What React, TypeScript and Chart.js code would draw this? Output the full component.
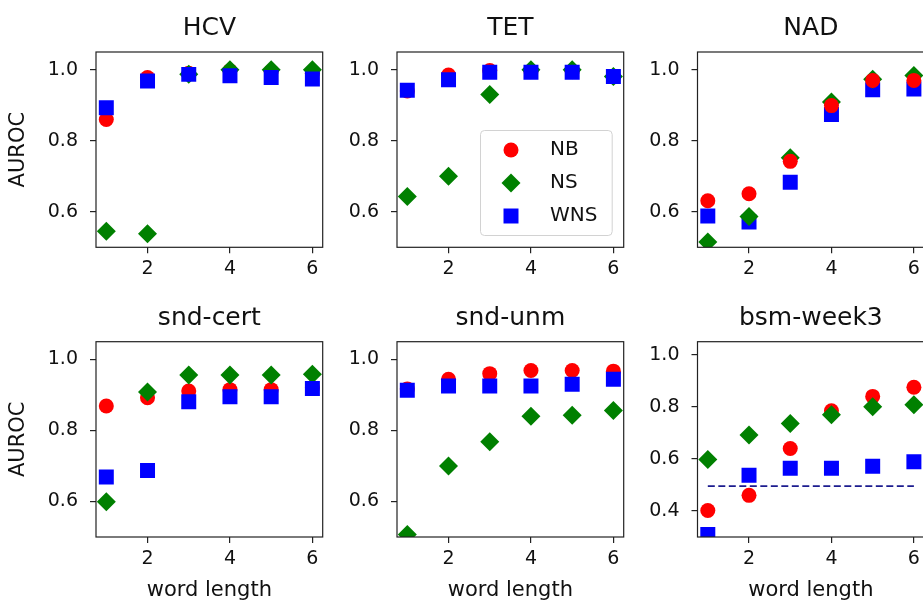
import React, { useEffect, useRef } from 'react';
import { Chart, registerables } from 'chart.js';

Chart.register(...registerables);

// ---------- data ----------
const wordLengths = [1, 2, 3, 4, 5, 6];
const xTickValues = [2, 4, 6];
const yTicksStd = [0.6, 0.8, 1.0];
const yTicksBsm = [0.4, 0.6, 0.8, 1.0];
const seriesNames = ['NB', 'NS', 'WNS'];
const panelTitles = ['HCV', 'TET', 'NAD', 'snd-cert', 'snd-unm', 'bsm-week3'];

const hcvNB = [0.86, 0.978, 0.99, 0.997, 0.995, 0.99];
const hcvNS = [0.545, 0.538, 0.987, 1.0, 1.0, 1.0];
const hcvWNS = [0.893, 0.968, 0.987, 0.983, 0.978, 0.974];

const tetNB = [0.94, 0.985, 0.998, 0.995, 0.995, 0.98];
const tetNS = [0.643, 0.7, 0.93, 1.0, 1.0, 0.981];
const tetWNS = [0.942, 0.972, 0.993, 0.993, 0.993, 0.981];

const nadNB = [0.631, 0.651, 0.742, 0.899, 0.97, 0.97];
const nadNS = [0.515, 0.587, 0.752, 0.909, 0.973, 0.984];
const nadWNS = [0.588, 0.571, 0.683, 0.874, 0.944, 0.946];

const certNB = [0.869, 0.892, 0.911, 0.915, 0.915, 0.92];
const certNS = [0.599, 0.908, 0.956, 0.956, 0.956, 0.958];
const certWNS = [0.669, 0.687, 0.881, 0.895, 0.895, 0.918];

const unmNB = [0.917, 0.944, 0.96, 0.969, 0.969, 0.967];
const unmNS = [0.507, 0.7, 0.768, 0.84, 0.843, 0.856];
const unmWNS = [0.913, 0.925, 0.925, 0.925, 0.93, 0.944];

const bsmNB = [0.402, 0.46, 0.64, 0.785, 0.84, 0.875];
const bsmNS = [0.598, 0.692, 0.736, 0.769, 0.8, 0.808];
const bsmWNS = [0.31, 0.537, 0.564, 0.564, 0.572, 0.589];
const chanceX = [1, 6];
const chanceY = [0.495, 0.495];

// ---------- styling / layout ----------
const FONT = "'DejaVu Sans', sans-serif";
const TEXT = '#111111';
const COLORS = ['#ff0000', '#008000', '#0000ff'];
const STYLES = ['circle', 'rectRot', 'rect'];
const RADII = [7.5, 9.5, 10.6];

const COL_X = [0, 300, 600];
const ROW_Y = [0, 290];
const CANVAS_W = 330;
const CANVAS_H = [290, 315];
const PLOT_LEFT = [96, 397, 697.5];
const PLOT_TOP = [52, 341.7];
const PLOT_W = 226.7;
const PLOT_H = 195.3;

type PanelCfg = {
  title: string;
  series: number[][];
  yMin: number;
  yMax: number;
  yTicks: number[];
  order: number[];
  legend?: boolean;
  chance?: boolean;
};

const normalOrder = [2, 1, 0];
const reversedOrder = [0, 1, 2];

const panels: PanelCfg[] = [
  { title: panelTitles[0], series: [hcvNB, hcvNS, hcvWNS], yMin: 0.5, yMax: 1.05, yTicks: yTicksStd, order: normalOrder },
  { title: panelTitles[1], series: [tetNB, tetNS, tetWNS], yMin: 0.5, yMax: 1.05, yTicks: yTicksStd, order: normalOrder, legend: true },
  { title: panelTitles[2], series: [nadNB, nadNS, nadWNS], yMin: 0.5, yMax: 1.05, yTicks: yTicksStd, order: reversedOrder },
  { title: panelTitles[3], series: [certNB, certNS, certWNS], yMin: 0.5, yMax: 1.05, yTicks: yTicksStd, order: normalOrder },
  { title: panelTitles[4], series: [unmNB, unmNS, unmWNS], yMin: 0.5, yMax: 1.05, yTicks: yTicksStd, order: normalOrder },
  { title: panelTitles[5], series: [bsmNB, bsmNS, bsmWNS], yMin: 0.3, yMax: 1.05, yTicks: yTicksBsm, order: normalOrder, chance: true },
];

// ---------- plugins ----------
const framePlugin = {
  id: 'frame',
  afterDatasetsDraw(chart: any) {
    const { ctx, chartArea: a } = chart;
    ctx.save();
    ctx.strokeStyle = '#222';
    ctx.lineWidth = 1.2;
    ctx.strokeRect(a.left, a.top, a.right - a.left, a.bottom - a.top);
    ctx.restore();
  },
};

function drawMarker(ctx: CanvasRenderingContext2D, style: string, r: number, x: number, y: number) {
  ctx.beginPath();
  if (style === 'circle') {
    ctx.arc(x, y, r, 0, Math.PI * 2);
  } else if (style === 'rectRot') {
    ctx.moveTo(x - r, y);
    ctx.lineTo(x, y - r);
    ctx.lineTo(x + r, y);
    ctx.lineTo(x, y + r);
    ctx.closePath();
  } else {
    const h = r * Math.SQRT1_2;
    ctx.rect(x - h, y - h, 2 * h, 2 * h);
  }
  ctx.fill();
}

const insetLegendPlugin = {
  id: 'insetLegend',
  afterDatasetsDraw(chart: any, _args: any, opts: any) {
    if (!opts || !opts.display) return;
    const { ctx, chartArea: a } = chart;
    const bw = 131.7, bh = 105;
    const bx = a.right - 12 - bw;
    const by = a.bottom - 12.3 - bh;
    ctx.save();
    ctx.beginPath();
    (ctx as any).roundRect(bx + 0.5, by + 0.5, bw, bh, 4);
    ctx.fillStyle = 'rgba(255,255,255,0.8)';
    ctx.fill();
    ctx.strokeStyle = '#d2d2d2';
    ctx.lineWidth = 1;
    ctx.stroke();
    const items = chart.data.datasets.filter((d: any) => seriesNames.includes(d.label));
    items.forEach((d: any, k: number) => {
      const yy = by + 20 + k * 33;
      ctx.fillStyle = d.backgroundColor;
      drawMarker(ctx, d.pointStyle, d.pointRadius, bx + 31, yy);
      ctx.fillStyle = TEXT;
      ctx.font = `20px ${FONT}`;
      ctx.textBaseline = 'middle';
      ctx.textAlign = 'left';
      ctx.fillText(d.label, bx + 70, yy);
    });
    ctx.restore();
  },
};

// ---------- panel ----------
function Panel({ idx }: { idx: number }) {
  const ref = useRef<HTMLCanvasElement>(null);
  const row = Math.floor(idx / 3);
  const col = idx % 3;
  const cw = CANVAS_W;
  const ch = CANVAS_H[row];
  const left = COL_X[col];
  const top = ROW_Y[row];

  useEffect(() => {
    const cfg = panels[idx];
    const pl = PLOT_LEFT[col] - left;
    const pt = PLOT_TOP[row] - top;
    const padRight = cw - pl - PLOT_W;
    const xAxisH = ch - pt - PLOT_H;
    const titleSize = 25;
    const titleLH = titleSize * 1.2;
    const titlePadTop = 13.5;

    const datasets: any[] = cfg.series.map((vals, s) => ({
      type: 'scatter',
      label: seriesNames[s],
      data: wordLengths.map((x, i) => ({ x, y: vals[i] })),
      pointStyle: STYLES[s],
      pointRadius: RADII[s],
      pointHoverRadius: RADII[s],
      backgroundColor: COLORS[s],
      borderColor: COLORS[s],
      borderWidth: 0,
      order: cfg.order[s],
      clip: 0,
    }));
    if (cfg.chance) {
      datasets.push({
        type: 'line',
        label: 'chance',
        data: chanceX.map((x, i) => ({ x, y: chanceY[i] })),
        borderColor: '#1c1c8f',
        borderWidth: 1.8,
        borderDash: [7, 3.5],
        pointRadius: 0,
        fill: false,
        showLine: true,
        order: -1,
        clip: 0,
      });
    }

    const chart = new Chart(ref.current as HTMLCanvasElement, {
      type: 'scatter',
      data: { datasets },
      plugins: [framePlugin, insetLegendPlugin],
      options: {
        animation: false,
        responsive: false,
        maintainAspectRatio: false,
        devicePixelRatio: 1,
        events: [],
        layout: { padding: { left: 0, top: 0, right: padRight, bottom: 0 }, autoPadding: false },
        plugins: {
          legend: { display: false },
          tooltip: { enabled: false },
          title: {
            display: true,
            text: cfg.title,
            fullSize: false,
            color: TEXT,
            font: { family: FONT, size: titleSize, weight: 'normal', lineHeight: 1.2 },
            padding: { top: titlePadTop, bottom: pt - titleLH - titlePadTop },
          },
          insetLegend: { display: !!cfg.legend },
        } as any,
        scales: {
          x: {
            type: 'linear',
            min: 0.75,
            max: 6.25,
            afterFit: (scale: any) => { scale.height = xAxisH; },
            afterBuildTicks: (scale: any) => { scale.ticks = xTickValues.map((v) => ({ value: v })); },
            ticks: {
              color: TEXT,
              font: { family: FONT, size: 19, lineHeight: 1.2 },
              padding: 4.2,
              maxRotation: 0,
              autoSkip: false,
              callback: (v: any) => String(v),
            },
            grid: { display: true, drawOnChartArea: false, drawTicks: true, tickLength: 6, color: '#222', lineWidth: 1.2 },
            border: { display: false },
            title: {
              display: row === 1,
              text: 'word length',
              color: TEXT,
              font: { family: FONT, size: 21, lineHeight: 1.2 },
              padding: { top: 0, bottom: 1.4 },
            },
          },
          y: {
            type: 'linear',
            min: cfg.yMin,
            max: cfg.yMax,
            afterFit: (scale: any) => { scale.width = pl; },
            afterBuildTicks: (scale: any) => { scale.ticks = cfg.yTicks.map((v) => ({ value: v })); },
            ticks: {
              color: TEXT,
              font: { family: FONT, size: 19, lineHeight: 1.2 },
              padding: 12,
              autoSkip: false,
              callback: (v: any) => Number(v).toFixed(1),
            },
            grid: { display: true, drawOnChartArea: false, drawTicks: true, tickLength: 6, color: '#222', lineWidth: 1.2 },
            border: { display: false },
            title: {
              display: col === 0,
              text: 'AUROC',
              color: TEXT,
              font: { family: FONT, size: 21, lineHeight: 1.2 },
              padding: { top: 6.4, bottom: 0 },
            },
          },
        },
      } as any,
    });
    return () => chart.destroy();
  }, [idx]);

  return (
    <canvas
      ref={ref}
      width={cw}
      height={ch}
      style={{ position: 'absolute', left, top, width: cw, height: ch }}
    />
  );
}

export default function App() {
  return (
    <div
      style={{
        position: 'fixed',
        left: 0,
        top: 0,
        width: 923,
        height: 605,
        overflow: 'hidden',
        background: '#ffffff',
      }}
    >
      {panels.map((_, i) => (
        <Panel key={i} idx={i} />
      ))}
    </div>
  );
}
